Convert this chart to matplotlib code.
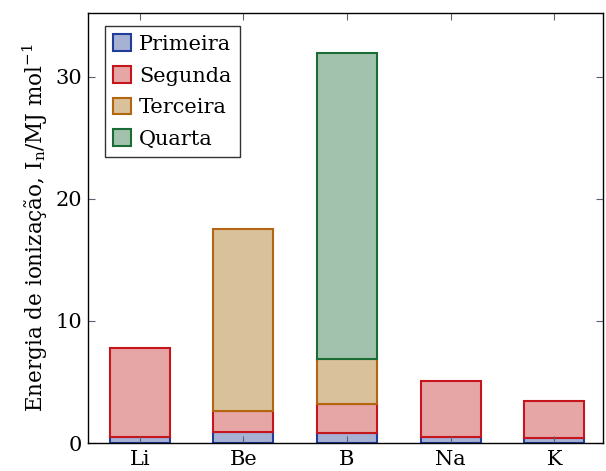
import matplotlib.pyplot as plt
import numpy as np

elements = ['Li', 'Be', 'B', 'Na', 'K']
series = ['Primeira', 'Segunda', 'Terceira', 'Quarta']
# energias de ionizacao sucessivas, MJ/mol
primeira = [0.52, 0.90, 0.80, 0.50, 0.42]
segunda = [7.30, 1.76, 2.43, 4.56, 3.05]
terceira = [0.0, 14.85, 3.66, 0.0, 0.0]
quarta = [0.0, 0.0, 25.03, 0.0, 0.0]

edges = ['#1f3d99', '#c4161c', '#b3650f', '#1b6b35']
fills = ['#a7b1d4', '#e6a6a6', '#d9c29b', '#a3c2ad']

plt.rcParams['font.family'] = 'DejaVu Serif'
plt.rcParams['mathtext.fontset'] = 'dejavuserif'

fig = plt.figure(figsize=(6.06, 4.71), dpi=100)
ax = fig.add_axes([0.145, 0.0594, 0.85, 0.9126])

x = np.arange(len(elements))
bottom = np.zeros(len(elements))
for vals, name, ec, fc in zip([primeira, segunda, terceira, quarta], series, edges, fills):
    vals = np.array(vals)
    mask = vals > 0
    ax.bar(x[mask], vals[mask], 0.58, bottom=bottom[mask], color=fc,
           edgecolor=ec, linewidth=1.5, label=name)
    bottom = bottom + vals

ax.set_xlim(-0.5, 4.47)
ax.set_ylim(0, 35.2)
ax.set_xticks(x)
ax.set_xticklabels(elements)
ax.set_yticks([0, 10, 20, 30])
ax.tick_params(direction='in', top=True, right=True, labelsize=15,
               length=5, color='#5a6070', pad=4)
ax.tick_params(axis='x', pad=5)
for s in ax.spines.values():
    s.set_linewidth(1.0)
ax.set_ylabel(r'Energia de ionização, I$_\mathrm{n}$/MJ mol$^{-1}$', fontsize=15.5, labelpad=4)

leg = ax.legend(loc='upper left', bbox_to_anchor=(0.033, 0.97), borderaxespad=0,
                fontsize=15, frameon=True, fancybox=False,
                edgecolor='black', handlelength=0.85, handleheight=0.85,
                handletextpad=0.4, borderpad=0.4, labelspacing=0.58)
leg.get_frame().set_linewidth(1.0)

plt.savefig('out.png', dpi=100)
